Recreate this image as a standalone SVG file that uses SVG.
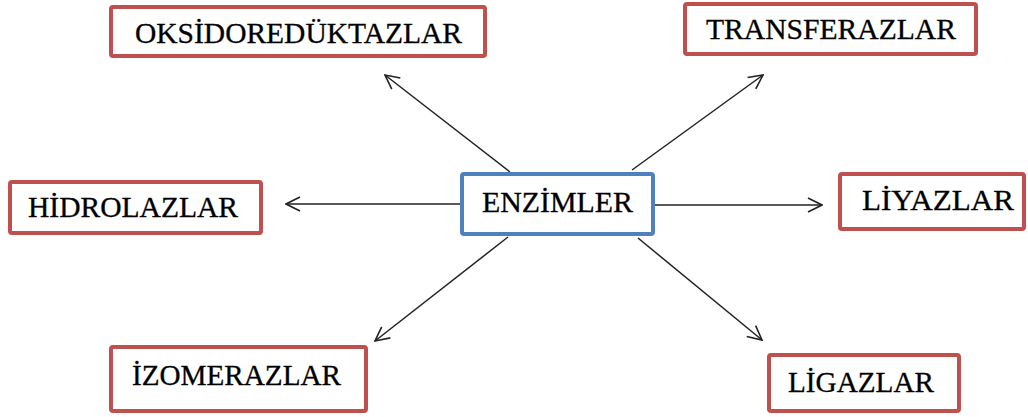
<svg xmlns="http://www.w3.org/2000/svg" width="1028" height="417" viewBox="0 0 1028 417">
<style>
.box{fill:#fff;stroke:#c0504d;stroke-width:4;}
.center{fill:#fff;stroke:#4f81bd;stroke-width:4;}
.lbl{font-size:29px;fill:#000;stroke:#000;stroke-width:0.3;}
.conn{stroke:#222;stroke-width:1.5;fill:none;marker-end:url(#arr);}
</style>
<defs>
<marker id="arr" viewBox="0 0 16 16" refX="15" refY="8" markerWidth="16" markerHeight="16" markerUnits="userSpaceOnUse" orient="auto">
<path d="M1,1 L15,8 L1,15" fill="none" stroke="#222" stroke-width="1.6"/>
</marker>
</defs>
<rect width="1028" height="417" fill="#fff"/>
<g id="connectors">
<line class="conn" x1="510" y1="172" x2="385" y2="75"/>
<line class="conn" x1="632" y1="170" x2="763" y2="75"/>
<line class="conn" x1="460" y1="204" x2="286" y2="204"/>
<line class="conn" x1="655" y1="205" x2="822" y2="205"/>
<line class="conn" x1="508" y1="237" x2="375" y2="341"/>
<line class="conn" x1="638" y1="238" x2="762" y2="340"/>
</g>
<g id="enzimler" font-family="'Liberation Serif', 'DejaVu Serif', serif">
<rect class="center" x="462" y="174" width="191" height="60" rx="2"/>
<text class="lbl" x="482" y="212" textLength="151" lengthAdjust="spacingAndGlyphs">ENZİMLER</text>
</g>
<g id="oksidoreduktazlar" font-family="'Liberation Serif', 'DejaVu Serif', serif">
<rect class="box" x="111" y="7" width="374" height="49" rx="2"/>
<text class="lbl" x="135" y="43" textLength="327" lengthAdjust="spacingAndGlyphs">OKSİDOREDÜKTAZLAR</text>
</g>
<g id="transferazlar" font-family="'Liberation Serif', 'DejaVu Serif', serif">
<rect class="box" x="685" y="4" width="291" height="50" rx="2"/>
<text class="lbl" x="706" y="39" textLength="250" lengthAdjust="spacingAndGlyphs">TRANSFERAZLAR</text>
</g>
<g id="hidrolazlar" font-family="'Liberation Serif', 'DejaVu Serif', serif">
<rect class="box" x="10" y="182" width="251" height="51" rx="2"/>
<text class="lbl" x="28" y="217" textLength="210" lengthAdjust="spacingAndGlyphs">HİDROLAZLAR</text>
</g>
<g id="liyazlar" font-family="'Liberation Serif', 'DejaVu Serif', serif">
<rect class="box" x="840" y="174" width="184" height="55" rx="2"/>
<text class="lbl" x="862" y="210" textLength="152" lengthAdjust="spacingAndGlyphs">LİYAZLAR</text>
</g>
<g id="izomerazlar" font-family="'Liberation Serif', 'DejaVu Serif', serif">
<rect class="box" x="111" y="347" width="255" height="64" rx="2"/>
<text class="lbl" x="132" y="385" textLength="209" lengthAdjust="spacingAndGlyphs">İZOMERAZLAR</text>
</g>
<g id="ligazlar" font-family="'Liberation Serif', 'DejaVu Serif', serif">
<rect class="box" x="769" y="355" width="190" height="56" rx="2"/>
<text class="lbl" x="788" y="392" textLength="146" lengthAdjust="spacingAndGlyphs">LİGAZLAR</text>
</g>
</svg>
